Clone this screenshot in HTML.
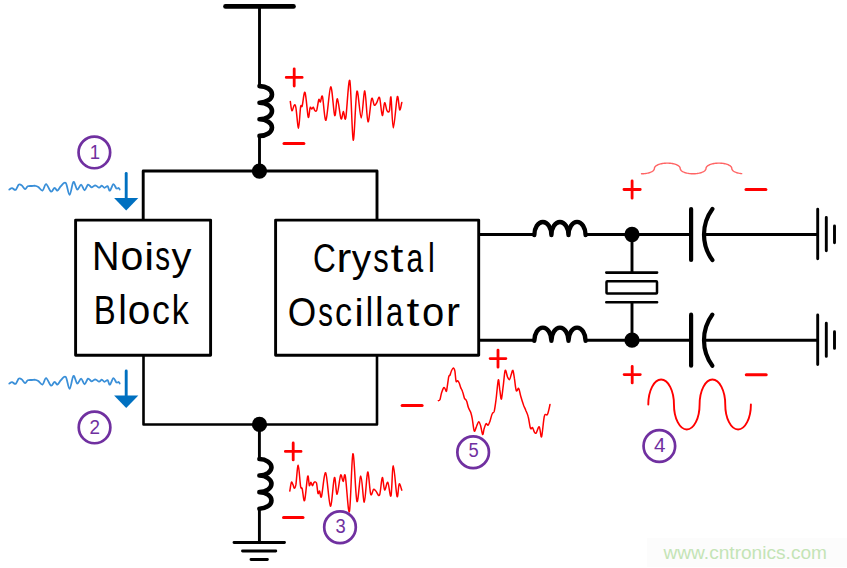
<!DOCTYPE html>
<html><head><meta charset="utf-8"><style>
html,body{margin:0;padding:0;background:#fff;width:847px;height:568px;overflow:hidden}
svg{display:block;font-family:"Liberation Sans",sans-serif}
</style></head><body>
<svg width="847" height="568" viewBox="0 0 847 568">
<path d="M225.5 6.4H293.5" stroke="#000" stroke-width="4.7" stroke-linecap="round"/>
<path d="M259.5 6V86" stroke="#000" fill="none" stroke-linejoin="round" stroke-width="2.9"/>
<path d="M259.50 86.10 A12.50 8.30 0 0 1 259.50 102.70 M259.50 102.70 A12.50 8.30 0 0 1 259.50 119.30 M259.50 119.30 A12.50 8.30 0 0 1 259.50 135.90 " stroke="#000" fill="none" stroke-linejoin="round" stroke-width="4.6" stroke-linecap="round"/>
<path d="M259.5 136V171" stroke="#000" fill="none" stroke-linejoin="round" stroke-width="2.9"/>
<path d="M143.2 220V171H377V220" stroke="#000" fill="none" stroke-linejoin="round" stroke-width="2.9"/>
<circle cx="259.45" cy="171.1" r="7.65" fill="#000"/>
<rect x="75.6" y="220.1" width="135" height="135.2" stroke="#000" fill="none" stroke-linejoin="round" stroke-width="2.9"/>
<rect x="275.6" y="220.1" width="203.1" height="135.2" stroke="#000" fill="none" stroke-linejoin="round" stroke-width="2.9"/>
<path d="M143.5 355V424.5H377V355" stroke="#000" fill="none" stroke-linejoin="round" stroke-width="2.6"/>
<circle cx="259.5" cy="424.45" r="7.65" fill="#000"/>
<path d="M259.4 424V459" stroke="#000" fill="none" stroke-linejoin="round" stroke-width="2.9"/>
<path d="M259.40 459.00 A12.50 8.29 0 0 1 259.40 475.57 M259.40 475.57 A12.50 8.29 0 0 1 259.40 492.14 M259.40 492.14 A12.50 8.29 0 0 1 259.40 508.71 " stroke="#000" fill="none" stroke-linejoin="round" stroke-width="4.6" stroke-linecap="round"/>
<path d="M259.4 508V542" stroke="#000" fill="none" stroke-linejoin="round" stroke-width="2.9"/>
<path d="M234 542.5H284.5M242.5 551H275.8M251 559.5H267.4" stroke="#000" stroke-width="2.9" stroke-linecap="round"/>
<path d="M478.8 234.5H534" stroke="#000" fill="none" stroke-linejoin="round" stroke-width="2.9"/>
<path d="M534.30 235.10 A8.55 13.20 0 0 1 551.40 235.10 M551.40 235.10 A8.55 13.20 0 0 1 568.50 235.10 M568.50 235.10 A8.55 13.20 0 0 1 585.60 235.10 " stroke="#000" fill="none" stroke-linejoin="round" stroke-width="4.4" stroke-linecap="round"/>
<path d="M585.6 234.5H690" stroke="#000" fill="none" stroke-linejoin="round" stroke-width="2.9"/>
<circle cx="632" cy="234.5" r="7.65" fill="#000"/>
<path d="M691.1 209.0V260.0" stroke="#000" stroke-width="4.2" stroke-linecap="round"/>
<path d="M712.4 208.90A43.2 43.2 0 0 0 712.4 260.10" stroke="#000" fill="none" stroke-linejoin="round" stroke-width="4.2" stroke-linecap="round"/>
<path d="M704 234.5H817.7" stroke="#000" fill="none" stroke-linejoin="round" stroke-width="2.9"/>
<path d="M817.7 209.2V258.8M826.3 217.5V250.7M834.5 226.0V242.7" stroke="#000" stroke-width="2.9" stroke-linecap="round"/>
<path d="M478.8 340.2H534" stroke="#000" fill="none" stroke-linejoin="round" stroke-width="2.9"/>
<path d="M534.30 340.80 A8.55 13.20 0 0 1 551.40 340.80 M551.40 340.80 A8.55 13.20 0 0 1 568.50 340.80 M568.50 340.80 A8.55 13.20 0 0 1 585.60 340.80 " stroke="#000" fill="none" stroke-linejoin="round" stroke-width="4.4" stroke-linecap="round"/>
<path d="M585.6 340.2H690" stroke="#000" fill="none" stroke-linejoin="round" stroke-width="2.9"/>
<circle cx="632" cy="340.2" r="7.65" fill="#000"/>
<path d="M691.1 314.7V365.7" stroke="#000" stroke-width="4.2" stroke-linecap="round"/>
<path d="M712.4 314.60A43.2 43.2 0 0 0 712.4 365.80" stroke="#000" fill="none" stroke-linejoin="round" stroke-width="4.2" stroke-linecap="round"/>
<path d="M704 340.2H817.7" stroke="#000" fill="none" stroke-linejoin="round" stroke-width="2.9"/>
<path d="M817.7 314.9V364.5M826.3 323.2V356.4M834.5 331.7V348.4" stroke="#000" stroke-width="2.9" stroke-linecap="round"/>
<path d="M632 234V272.6M632 302V340" stroke="#000" fill="none" stroke-linejoin="round" stroke-width="2.9"/>
<path d="M606.3 272.6H657.1M606.3 302.2H657.1" stroke="#000" stroke-width="2.6" stroke-linecap="round"/>
<rect x="606.5" y="281.3" width="50.5" height="12.2" rx="0.8" stroke="#000" fill="none" stroke-linejoin="round" stroke-width="2.5"/>
<path d="M290.3 101.5 C290.6 103.1 291.2 110.1 291.9 110.7 C292.6 111.3 293.6 105.7 294.3 105.2 C294.9 104.7 295.1 103.7 295.9 107.6 C296.6 111.4 297.8 128.3 298.5 128.2 C299.3 128.0 300.0 110.5 300.6 106.8 C301.2 103.1 301.5 108.4 302.2 106.0 C302.9 103.6 304.0 90.6 305.0 92.5 C306.1 94.3 307.4 114.6 308.2 117.1 C309.1 119.6 309.5 108.9 310.1 107.6 C310.7 106.2 311.2 109.2 311.7 109.1 C312.2 109.1 312.8 107.0 313.3 107.2 C313.8 107.5 314.3 110.3 314.9 110.7 C315.5 111.2 316.1 111.8 316.8 109.9 C317.4 108.1 318.2 101.0 318.8 99.6 C319.4 98.3 319.8 102.5 320.4 102.0 C321.0 101.5 321.6 93.7 322.5 96.8 C323.4 99.8 324.6 121.9 326.0 120.2 C327.3 118.6 329.3 87.7 330.7 86.9 C332.2 86.2 333.6 113.5 334.7 115.5 C335.8 117.5 336.3 98.3 337.4 98.8 C338.4 99.4 340.0 116.5 341.0 118.7 C342.0 120.8 342.6 111.7 343.4 111.5 C344.2 111.4 344.7 123.0 345.8 117.9 C346.8 112.7 348.5 76.9 349.8 80.6 C351.0 84.3 352.1 138.3 353.2 140.1 C354.4 141.9 355.6 95.1 356.9 91.4 C358.2 87.7 359.8 117.9 361.2 117.9 C362.5 117.8 363.7 90.3 364.8 90.9 C365.9 91.6 366.8 120.5 368.0 121.8 C369.1 123.1 370.6 101.6 371.6 98.8 C372.7 96.1 373.5 104.5 374.3 105.2 C375.2 105.8 375.8 104.0 376.7 102.8 C377.6 101.6 378.6 95.6 379.6 97.7 C380.5 99.8 381.4 114.6 382.3 115.5 C383.1 116.3 383.8 103.6 384.6 102.8 C385.4 102.0 386.2 109.4 387.0 110.7 C387.8 112.1 388.7 113.0 389.4 110.7 C390.0 108.5 390.3 94.4 391.0 97.3 C391.6 100.1 392.3 127.9 393.3 127.9 C394.4 127.8 396.3 99.8 397.3 96.8 C398.4 93.8 398.9 109.0 399.7 109.9 C400.4 110.9 401.4 103.7 401.8 102.5" stroke="#FF0000" fill="none" stroke-width="1.5" stroke-linejoin="round" stroke-linecap="round"/>
<path d="M289.8 491.0 C290.1 489.6 290.9 483.4 291.4 482.3 C291.9 481.3 292.5 483.7 293.0 484.7 C293.5 485.7 293.8 488.3 294.3 488.3 C294.7 488.3 295.2 488.5 295.9 484.7 C296.5 480.8 297.4 464.9 298.2 465.2 C299.0 465.5 299.9 482.4 300.6 486.3 C301.3 490.2 301.5 486.3 302.2 488.7 C302.9 491.0 303.6 502.6 304.6 500.5 C305.5 498.5 306.9 478.8 307.7 476.3 C308.5 473.8 308.8 484.5 309.3 485.5 C309.9 486.5 310.4 482.3 310.9 482.3 C311.4 482.4 312.0 485.8 312.5 485.8 C313.0 485.8 313.4 482.8 314.1 482.3 C314.7 481.9 315.8 481.3 316.5 483.1 C317.1 485.0 317.5 492.1 318.0 493.4 C318.6 494.7 319.1 490.5 319.6 491.0 C320.2 491.6 320.5 499.6 321.5 496.6 C322.5 493.5 324.2 471.2 325.7 472.8 C327.1 474.4 329.0 505.3 330.4 506.1 C331.9 506.9 333.3 479.5 334.4 477.6 C335.5 475.6 336.0 494.6 337.1 494.2 C338.1 493.8 339.6 477.3 340.6 475.2 C341.6 473.1 342.3 481.4 343.1 481.5 C343.9 481.7 344.3 471.0 345.3 476.0 C346.4 481.0 348.2 515.3 349.4 511.6 C350.7 507.9 351.7 455.5 352.9 453.8 C354.2 452.1 355.6 497.6 356.9 501.3 C358.2 505.0 359.6 475.8 360.8 476.0 C362.1 476.1 363.2 502.8 364.3 502.1 C365.5 501.5 366.6 473.3 367.7 472.0 C368.7 470.7 369.7 491.3 370.7 494.2 C371.7 497.1 372.7 490.0 373.5 489.4 C374.4 488.9 374.9 490.1 375.9 491.0 C376.9 492.0 378.5 497.2 379.6 495.0 C380.6 492.8 381.4 478.4 382.3 477.6 C383.1 476.7 383.7 489.1 384.6 489.9 C385.6 490.7 386.7 481.3 387.8 482.3 C388.9 483.3 390.0 498.6 391.0 495.8 C391.9 493.0 392.3 465.6 393.3 465.7 C394.4 465.7 396.0 493.2 397.0 496.3 C398.0 499.3 398.4 484.9 399.2 483.9 C400.0 482.9 401.3 489.2 401.8 490.2" stroke="#FF0000" fill="none" stroke-width="1.5" stroke-linejoin="round" stroke-linecap="round"/>
<path d="M438.4 400.7 C438.7 400.5 439.5 400.9 440.0 399.6 C440.5 398.3 440.9 395.0 441.5 393.0 C442.2 391.0 443.2 388.3 443.8 387.6 C444.5 387.0 444.9 388.7 445.3 389.2 C445.8 389.7 446.0 392.7 446.6 390.7 C447.1 388.7 448.2 379.4 448.7 376.9 C449.3 374.3 449.5 376.4 450.0 375.3 C450.4 374.3 450.9 372.0 451.5 370.7 C452.1 369.5 452.8 367.9 453.3 368.0 C453.9 368.0 454.4 368.9 454.9 371.1 C455.3 373.3 455.6 379.6 456.1 381.2 C456.6 382.8 457.1 380.4 457.6 380.7 C458.1 381.0 458.7 381.9 459.2 383.0 C459.7 384.2 460.1 386.2 460.7 387.6 C461.3 389.0 461.9 389.7 462.5 391.5 C463.2 393.3 463.9 396.8 464.5 398.4 C465.2 399.9 465.9 399.1 466.5 400.7 C467.2 402.2 467.7 405.7 468.4 407.6 C469.1 409.5 470.0 410.4 470.7 412.2 C471.3 414.0 471.6 415.2 472.2 418.3 C472.8 421.4 473.5 429.5 474.2 430.9 C474.9 432.3 475.6 428.3 476.4 426.8 C477.1 425.2 478.1 421.8 478.8 421.7 C479.5 421.6 480.0 423.9 480.7 426.0 C481.3 428.1 482.1 433.9 482.6 434.4 C483.2 435.0 483.5 430.9 484.0 429.1 C484.6 427.3 485.4 424.3 486.0 423.7 C486.7 423.1 487.4 425.6 488.0 425.2 C488.7 424.9 489.2 423.3 489.9 421.4 C490.6 419.5 491.4 415.4 492.2 413.7 C492.9 412.1 493.5 413.7 494.2 411.4 C494.8 409.1 495.3 405.2 496.0 399.9 C496.7 394.7 497.7 381.6 498.3 380.0 C498.9 378.3 499.3 386.7 499.8 389.9 C500.4 393.1 500.8 400.0 501.4 399.1 C502.0 398.2 502.7 389.3 503.4 384.6 C504.0 379.8 504.5 371.7 505.2 370.4 C505.9 369.2 506.8 375.3 507.5 376.9 C508.2 378.4 508.9 379.9 509.5 379.6 C510.1 379.4 510.5 376.9 511.0 375.3 C511.6 373.8 512.3 369.9 512.9 370.4 C513.4 370.9 513.9 375.0 514.4 378.4 C515.0 381.8 515.5 389.0 516.3 390.7 C517.0 392.4 518.0 387.4 518.7 388.4 C519.5 389.4 520.0 394.0 520.9 396.8 C521.7 399.7 522.8 403.0 523.6 405.3 C524.5 407.6 525.2 408.7 525.9 410.7 C526.7 412.6 527.5 413.9 528.2 416.8 C529.0 419.7 529.8 426.5 530.5 428.3 C531.3 430.1 531.9 426.9 532.5 427.5 C533.2 428.2 533.8 431.2 534.4 432.1 C535.0 433.0 535.4 433.8 536.2 432.9 C537.0 432.0 538.4 426.1 539.3 426.8 C540.2 427.4 540.7 438.5 541.6 436.7 C542.4 435.0 543.4 419.7 544.4 416.0 C545.3 412.3 546.5 416.4 547.4 414.5 C548.4 412.6 549.6 406.2 550.0 404.5" stroke="#FF0000" fill="none" stroke-width="1.5" stroke-linejoin="round" stroke-linecap="round"/>
<path d="M648.30 404.50 A12.82 25.00 0 0 1 673.95 404.50 A12.82 25.00 0 0 0 699.60 404.50 A12.82 25.00 0 0 1 725.25 404.50 A12.82 25.00 0 0 0 750.90 404.50" stroke="#FF0000" fill="none" stroke-linejoin="round" stroke-linecap="round" stroke-width="1.9"/>
<path d="M641.50 173.75 L642.51 173.73 L643.52 173.68 L644.51 173.60 L645.49 173.49 L646.44 173.35 L647.36 173.17 L648.24 172.97 L649.08 172.74 L649.88 172.48 L650.62 172.20 L651.31 171.89 L651.94 171.57 L652.50 171.22 L652.99 170.86 L653.42 170.48 L653.77 170.09 L654.04 169.69 L654.24 169.28 L654.36 168.87 L654.40 168.45 L654.40 168.45 L654.44 168.03 L654.56 167.62 L654.76 167.21 L655.03 166.81 L655.38 166.42 L655.81 166.04 L656.30 165.68 L656.86 165.33 L657.49 165.01 L658.18 164.70 L658.92 164.42 L659.72 164.16 L660.56 163.93 L661.44 163.73 L662.36 163.55 L663.31 163.41 L664.29 163.30 L665.28 163.22 L666.29 163.17 L667.30 163.15 L668.31 163.17 L669.32 163.22 L670.31 163.30 L671.29 163.41 L672.24 163.55 L673.16 163.73 L674.04 163.93 L674.88 164.16 L675.68 164.42 L676.42 164.70 L677.11 165.01 L677.74 165.33 L678.30 165.68 L678.79 166.04 L679.22 166.42 L679.57 166.81 L679.84 167.21 L680.04 167.62 L680.16 168.03 L680.20 168.45 L680.20 168.45 L680.24 168.87 L680.36 169.28 L680.56 169.69 L680.83 170.09 L681.18 170.48 L681.61 170.86 L682.10 171.22 L682.66 171.57 L683.29 171.89 L683.98 172.20 L684.72 172.48 L685.52 172.74 L686.36 172.97 L687.24 173.17 L688.16 173.35 L689.11 173.49 L690.09 173.60 L691.08 173.68 L692.09 173.73 L693.10 173.75 L694.11 173.73 L695.12 173.68 L696.11 173.60 L697.09 173.49 L698.04 173.35 L698.96 173.17 L699.84 172.97 L700.68 172.74 L701.48 172.48 L702.22 172.20 L702.91 171.89 L703.54 171.57 L704.10 171.22 L704.59 170.86 L705.02 170.48 L705.37 170.09 L705.64 169.69 L705.84 169.28 L705.96 168.87 L706.00 168.45 L706.00 168.45 L706.04 168.03 L706.16 167.62 L706.36 167.21 L706.63 166.81 L706.98 166.42 L707.41 166.04 L707.90 165.68 L708.46 165.33 L709.09 165.01 L709.78 164.70 L710.52 164.42 L711.32 164.16 L712.16 163.93 L713.04 163.73 L713.96 163.55 L714.91 163.41 L715.89 163.30 L716.88 163.22 L717.89 163.17 L718.90 163.15 L719.91 163.17 L720.92 163.22 L721.91 163.30 L722.89 163.41 L723.84 163.55 L724.76 163.73 L725.64 163.93 L726.48 164.16 L727.28 164.42 L728.02 164.70 L728.71 165.01 L729.34 165.33 L729.90 165.68 L730.39 166.04 L730.82 166.42 L731.17 166.81 L731.44 167.21 L731.64 167.62 L731.76 168.03 L731.80 168.45 L731.80 168.45 L731.84 168.87 L731.96 169.28 L732.16 169.69 L732.43 170.09 L732.78 170.48 L733.21 170.86 L733.70 171.22 L734.26 171.57 L734.89 171.89 L735.58 172.20 L736.32 172.48 L737.12 172.74 L737.96 172.97 L738.84 173.17 L739.76 173.35 L740.71 173.49 L741.69 173.60" stroke="#FF6464" fill="none" stroke-width="1.4" stroke-linecap="round" stroke-linejoin="round"/>
<path d="M286.25 77.40H302.15M294.20 68.80V86.00" stroke="#FF0000" stroke-width="2.8" stroke-linecap="round" fill="none"/>
<path d="M284.00 143.55H303.90" stroke="#FF0000" stroke-width="3.0" stroke-linecap="round" fill="none"/>
<path d="M285.35 451.40H301.05M293.20 442.90V459.90" stroke="#FF0000" stroke-width="2.8" stroke-linecap="round" fill="none"/>
<path d="M283.50 517.55H303.00" stroke="#FF0000" stroke-width="3.0" stroke-linecap="round" fill="none"/>
<path d="M490.10 358.60H505.90M498.00 350.05V367.15" stroke="#FF0000" stroke-width="2.8" stroke-linecap="round" fill="none"/>
<path d="M402.10 405.55H422.10" stroke="#FF0000" stroke-width="3.0" stroke-linecap="round" fill="none"/>
<path d="M623.95 189.50H640.25M632.10 180.85V198.15" stroke="#FF0000" stroke-width="2.8" stroke-linecap="round" fill="none"/>
<path d="M746.00 189.55H765.90" stroke="#FF0000" stroke-width="3.0" stroke-linecap="round" fill="none"/>
<path d="M624.10 374.60H640.30M632.20 366.30V382.90" stroke="#FF0000" stroke-width="2.8" stroke-linecap="round" fill="none"/>
<path d="M746.30 374.65H766.20" stroke="#FF0000" stroke-width="3.0" stroke-linecap="round" fill="none"/>
<path d="M9.3 189.5 C9.7 189.3 11.0 188.0 12.1 188.1 C13.1 188.2 14.5 190.5 15.6 189.9 C16.7 189.3 17.8 185.3 18.8 184.6 C19.8 183.8 20.6 184.5 21.6 185.3 C22.7 186.0 24.2 189.0 25.2 189.2 C26.2 189.3 26.5 186.9 27.7 186.3 C28.8 185.8 30.6 186.1 31.9 186.0 C33.2 185.9 34.4 185.6 35.5 185.8 C36.5 185.9 37.1 186.2 38.3 187.0 C39.5 187.8 41.2 191.1 42.5 190.6 C43.8 190.1 44.7 184.0 46.1 184.2 C47.5 184.4 49.6 191.1 51.0 191.6 C52.5 192.2 53.5 187.9 54.6 187.8 C55.6 187.6 56.4 190.9 57.4 190.6 C58.5 190.3 59.6 187.2 61.0 186.0 C62.4 184.7 64.3 181.6 65.8 183.0 C67.2 184.5 68.3 195.1 69.6 194.9 C70.9 194.8 72.2 182.8 73.4 181.9 C74.7 181.0 76.0 189.1 77.3 189.6 C78.5 190.0 79.9 184.5 81.1 184.6 C82.3 184.7 83.4 190.3 84.6 190.3 C85.7 190.3 86.9 185.1 88.0 184.6 C89.2 184.1 90.3 187.1 91.5 187.3 C92.7 187.4 94.0 185.3 95.3 185.3 C96.6 185.4 98.1 187.6 99.1 187.7 C100.2 187.7 100.9 185.7 101.8 185.7 C102.7 185.8 103.6 187.7 104.5 187.8 C105.5 187.9 106.7 185.6 107.6 186.1 C108.5 186.6 108.9 191.0 109.9 190.7 C110.8 190.4 112.3 184.6 113.3 184.2 C114.4 183.8 115.5 187.8 116.4 188.4 C117.3 189.1 118.2 187.8 118.7 188.0 C119.3 188.2 119.5 189.3 119.7 189.6" stroke="#3A8FD8" fill="none" stroke-width="1.8" stroke-linejoin="round" stroke-linecap="round"/>
<path d="M9.3 189.5 C9.7 189.3 11.0 188.0 12.1 188.1 C13.1 188.2 14.5 190.5 15.6 189.9 C16.7 189.3 17.8 185.3 18.8 184.6 C19.8 183.8 20.6 184.5 21.6 185.3 C22.7 186.0 24.2 189.0 25.2 189.2 C26.2 189.3 26.5 186.9 27.7 186.3 C28.8 185.8 30.6 186.1 31.9 186.0 C33.2 185.9 34.4 185.6 35.5 185.8 C36.5 185.9 37.1 186.2 38.3 187.0 C39.5 187.8 41.2 191.1 42.5 190.6 C43.8 190.1 44.7 184.0 46.1 184.2 C47.5 184.4 49.6 191.1 51.0 191.6 C52.5 192.2 53.5 187.9 54.6 187.8 C55.6 187.6 56.4 190.9 57.4 190.6 C58.5 190.3 59.6 187.2 61.0 186.0 C62.4 184.7 64.3 181.6 65.8 183.0 C67.2 184.5 68.3 195.1 69.6 194.9 C70.9 194.8 72.2 182.8 73.4 181.9 C74.7 181.0 76.0 189.1 77.3 189.6 C78.5 190.0 79.9 184.5 81.1 184.6 C82.3 184.7 83.4 190.3 84.6 190.3 C85.7 190.3 86.9 185.1 88.0 184.6 C89.2 184.1 90.3 187.1 91.5 187.3 C92.7 187.4 94.0 185.3 95.3 185.3 C96.6 185.4 98.1 187.6 99.1 187.7 C100.2 187.7 100.9 185.7 101.8 185.7 C102.7 185.8 103.6 187.7 104.5 187.8 C105.5 187.9 106.7 185.6 107.6 186.1 C108.5 186.6 108.9 191.0 109.9 190.7 C110.8 190.4 112.3 184.6 113.3 184.2 C114.4 183.8 115.5 187.8 116.4 188.4 C117.3 189.1 118.2 187.8 118.7 188.0 C119.3 188.2 119.5 189.3 119.7 189.6" stroke="#3A8FD8" fill="none" stroke-width="1.8" stroke-linejoin="round" stroke-linecap="round" transform="translate(0 194)"/>
<path d="M126.2 173.4V199.0" stroke="#0070C0" stroke-width="2.9" stroke-linecap="round"/>
<path d="M114.1 198.0H138.3L126.2 210.5Z" fill="#0070C0"/>
<path d="M126.2 370.9V396.5" stroke="#0070C0" stroke-width="2.9" stroke-linecap="round"/>
<path d="M114.1 395.5H138.3L126.2 408.0Z" fill="#0070C0"/>
<circle cx="94.35" cy="152.45" r="15.8" stroke="#7030A0" stroke-width="2.7" fill="none"/><text transform="matrix(0.8990 0 0 1 89.74 158.55)" font-size="20.64" fill="#7030A0">1</text>
<circle cx="94.55" cy="427.45" r="15.8" stroke="#7030A0" stroke-width="2.7" fill="none"/><text transform="matrix(0.9282 0 0 1 89.50 433.55)" font-size="20.34" fill="#7030A0">2</text>
<circle cx="340.00" cy="527.25" r="15.8" stroke="#7030A0" stroke-width="2.7" fill="none"/><text transform="matrix(0.9214 0 0 1 335.45 533.26)" font-size="19.92" fill="#7030A0">3</text>
<circle cx="659.35" cy="446.00" r="15.8" stroke="#7030A0" stroke-width="2.7" fill="none"/><text transform="matrix(0.9930 0 0 1 653.98 451.55)" font-size="20.79" fill="#7030A0">4</text>
<circle cx="473.15" cy="452.25" r="15.8" stroke="#7030A0" stroke-width="2.7" fill="none"/><text transform="matrix(0.8954 0 0 1 468.42 457.35)" font-size="20.49" fill="#7030A0">5</text>
<text transform="matrix(0.9347 0 0 1 91.93 269.70)" font-size="40.7" fill="#000">N</text>
<text transform="matrix(1.0272 0 0 1 120.62 269.70)" font-size="40" fill="#000">o</text>
<text transform="matrix(1.1234 0 0 1 144.18 269.70)" font-size="39.5" fill="#000">i</text>
<text transform="matrix(0.7396 0 0 1 155.23 269.70)" font-size="40" fill="#000">s</text>
<text transform="matrix(1.0351 0 0 1 171.45 269.70)" font-size="38.5" fill="#000">y</text>
<text transform="matrix(0.8079 0 0 1 93.65 324.40)" font-size="40.7" fill="#000">B</text>
<text transform="matrix(0.9389 0 0 1 118.14 324.40)" font-size="41.2" fill="#000">l</text>
<text transform="matrix(1.0166 0 0 1 127.64 324.40)" font-size="40" fill="#000">o</text>
<text transform="matrix(0.8930 0 0 1 152.03 324.40)" font-size="40" fill="#000">c</text>
<text transform="matrix(0.8275 0 0 1 171.75 324.40)" font-size="41.2" fill="#000">k</text>
<text transform="matrix(0.7759 0 0 1 312.95 271.90)" font-size="40.7" fill="#000">C</text>
<text transform="matrix(1.1100 0 0 1 336.60 271.90)" font-size="40" fill="#000">r</text>
<text transform="matrix(1.0062 0 0 1 351.66 271.90)" font-size="38.5" fill="#000">y</text>
<text transform="matrix(0.7740 0 0 1 373.19 271.90)" font-size="40" fill="#000">s</text>
<text transform="matrix(1.1552 0 0 1 390.45 271.90)" font-size="40" fill="#000">t</text>
<text transform="matrix(0.7495 0 0 1 406.38 271.90)" font-size="40" fill="#000">a</text>
<text transform="matrix(0.7456 0 0 1 427.98 271.90)" font-size="41.2" fill="#000">l</text>
<text transform="matrix(0.9002 0 0 1 287.86 325.70)" font-size="40.7" fill="#000">O</text>
<text transform="matrix(0.7339 0 0 1 318.33 325.70)" font-size="40" fill="#000">s</text>
<text transform="matrix(0.8524 0 0 1 334.90 325.70)" font-size="40" fill="#000">c</text>
<text transform="matrix(1.0370 0 0 1 354.61 325.70)" font-size="39.5" fill="#000">i</text>
<text transform="matrix(0.8009 0 0 1 365.83 325.70)" font-size="41.2" fill="#000">l</text>
<text transform="matrix(0.9389 0 0 1 375.04 325.70)" font-size="41.2" fill="#000">l</text>
<text transform="matrix(0.7738 0 0 1 386.04 325.70)" font-size="40" fill="#000">a</text>
<text transform="matrix(1.1552 0 0 1 406.45 325.70)" font-size="40" fill="#000">t</text>
<text transform="matrix(1.0007 0 0 1 421.97 325.70)" font-size="40" fill="#000">o</text>
<text transform="matrix(1.0500 0 0 1 446.06 325.70)" font-size="40" fill="#000">r</text>
<rect x="646.8" y="537.9" width="200.2" height="29.1" fill="#FCFCFC"/>
<text x="663.5" y="558.6" font-size="19.2" fill="#C4E4B6" textLength="163.5" lengthAdjust="spacingAndGlyphs">www.cntronics.com</text>
</svg>
</body></html>
